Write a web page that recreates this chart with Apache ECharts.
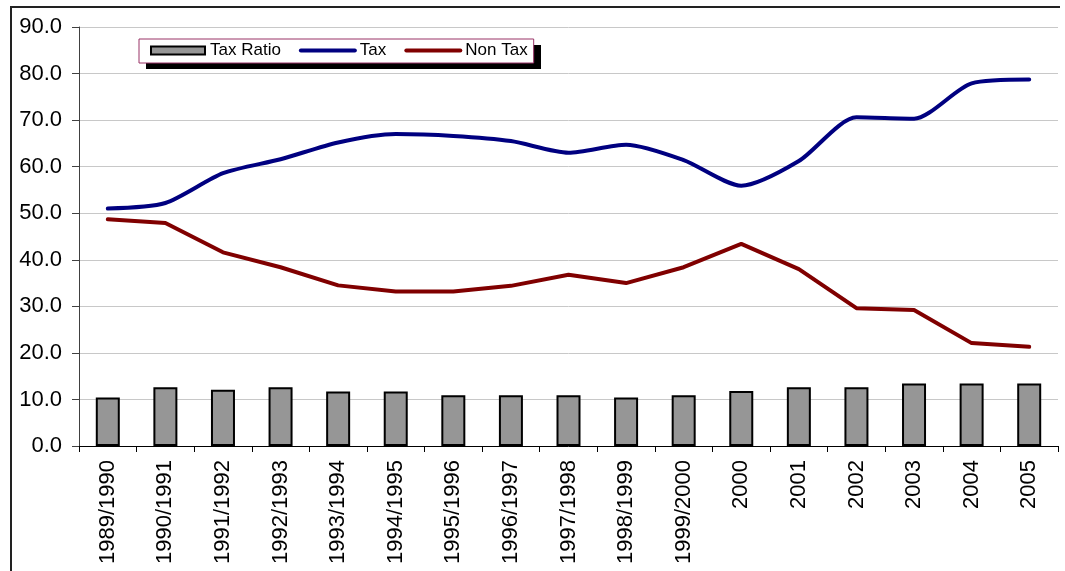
<!DOCTYPE html>
<html>
<head>
<meta charset="utf-8">
<script src="https://cdn.jsdelivr.net/npm/echarts@6/dist/echarts.min.js"></script>
<style>
  html, body { margin: 0; padding: 0; background: #fff; }
  #chart { width: 1065px; height: 571px; }
</style>
</head>
<body>
<div id="chart"></div>
<script>
// Fiscal years on the category axis
const years = [
  '1989/1990', '1990/1991', '1991/1992', '1992/1993', '1993/1994', '1994/1995',
  '1995/1996', '1996/1997', '1997/1998', '1998/1999', '1999/2000',
  '2000', '2001', '2002', '2003', '2004', '2005'
];

// Tax revenue as a share of GDP (bars)
const taxRatio = [10.4, 12.6, 12.1, 12.6, 11.7, 11.7, 10.9, 10.9, 10.9, 10.4, 10.9, 11.8, 12.6, 12.6, 13.4, 13.4, 13.4];

// Shares of total revenue (lines)
const taxShare = [51.0, 52.2, 58.6, 61.6, 65.2, 67.0, 66.6, 65.5, 63.0, 64.7, 61.4, 55.9, 61.2, 70.6, 70.3, 77.9, 78.7];
const nonTaxShare = [48.7, 47.9, 41.6, 38.4, 34.5, 33.2, 33.2, 34.4, 36.8, 35.0, 38.4, 43.4, 38.0, 29.6, 29.2, 22.1, 21.3];

// Value axis ticks
const yMin = 0, yMax = 90, yStep = 10;

const FONT = "'Liberation Sans', Arial, sans-serif";
const TAX_COLOR = '#000080';
const NONTAX_COLOR = '#800000';

const chart = echarts.init(document.getElementById('chart'), null, { renderer: 'canvas' });

chart.setOption({
  animation: false,
  backgroundColor: '#ffffff',
  textStyle: { fontFamily: FONT, color: '#000' },
  grid: { left: 79, right: 7, top: 27, bottom: 125, containLabel: false },
  graphic: [
    {
      // frame along the top and left edges
      type: 'polyline',
      silent: true,
      z: 0,
      shape: { points: [[11, 571], [11, 7], [1060, 7]] },
      style: { stroke: '#222', lineWidth: 2, fill: null }
    },
    {
      // solid drop shadow behind the legend box
      type: 'rect',
      silent: true,
      z: 3,
      shape: { x: 146, y: 45, width: 395, height: 24 },
      style: { fill: '#000' }
    }
  ],
  legend: {
    left: 139,
    top: 39,
    z: 5,
    orient: 'horizontal',
    itemWidth: 54,
    itemHeight: 8,
    itemGap: 18,
    padding: [3, 6, 4, 11],
    backgroundColor: '#ffffff',
    borderColor: '#993366',
    borderWidth: 1,
    textStyle: { fontFamily: FONT, fontSize: 17, color: '#000' },
    data: [
      { name: 'Tax Ratio', icon: 'rect' },
      {
        name: 'Tax',
        itemStyle: { opacity: 0 },
        lineStyle: { color: TAX_COLOR, width: 4, cap: 'round' }
      },
      {
        name: 'Non Tax',
        itemStyle: { opacity: 0 },
        lineStyle: { color: NONTAX_COLOR, width: 4, cap: 'round' }
      }
    ]
  },
  xAxis: {
    type: 'category',
    data: years,
    boundaryGap: true,
    axisLine: { lineStyle: { color: '#000', width: 1 } },
    axisTick: { show: true, alignWithLabel: false, length: 6, lineStyle: { color: '#000' } },
    axisLabel: {
      rotate: 90,
      interval: 0,
      margin: 14,
      fontFamily: FONT,
      fontSize: 22,
      color: '#000'
    },
    splitLine: { show: false }
  },
  yAxis: {
    type: 'value',
    min: yMin,
    max: yMax,
    interval: yStep,
    axisLine: { show: true, lineStyle: { color: '#404040', width: 1 } },
    axisTick: { show: true, inside: false, length: 7, lineStyle: { color: '#404040' } },
    axisLabel: {
      margin: 17,
      fontFamily: FONT,
      fontSize: 22,
      color: '#000',
      formatter: v => v.toFixed(1)
    },
    splitLine: { show: true, lineStyle: { color: '#c8c8c8', width: 1 } }
  },
  series: [
    {
      name: 'Tax Ratio',
      type: 'bar',
      data: taxRatio,
      barWidth: 24,
      itemStyle: { color: '#969696', borderColor: '#000', borderWidth: 2 },
      z: 2
    },
    {
      name: 'Tax',
      type: 'line',
      data: taxShare,
      smooth: 0.25,
      symbol: 'none',
      lineStyle: { color: TAX_COLOR, width: 4, cap: 'round', join: 'round' },
      itemStyle: { color: TAX_COLOR },
      z: 3
    },
    {
      name: 'Non Tax',
      type: 'line',
      data: nonTaxShare,
      smooth: false,
      symbol: 'none',
      lineStyle: { color: NONTAX_COLOR, width: 4, cap: 'round', join: 'round' },
      itemStyle: { color: NONTAX_COLOR },
      z: 3
    }
  ]
});
</script>
</body>
</html>
